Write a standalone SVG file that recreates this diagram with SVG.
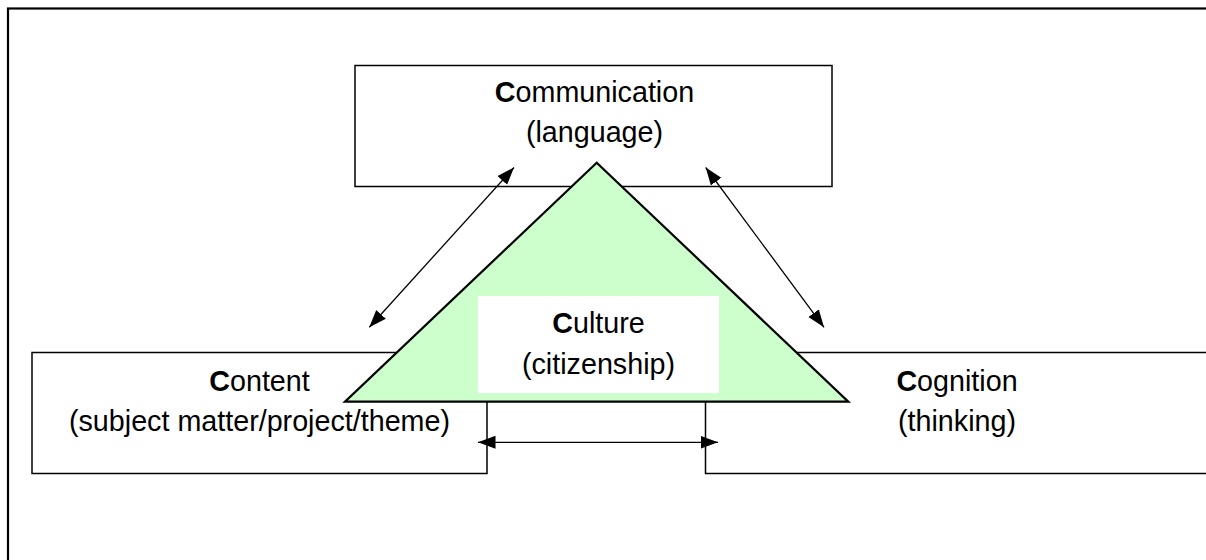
<svg xmlns="http://www.w3.org/2000/svg" width="1206" height="560" viewBox="0 0 1206 560">
  <defs>
    <style>
      .frame { fill: none; stroke: #000; stroke-width: 2.2; }
      .box { fill: #fff; stroke: #000; stroke-width: 1.5; }
      .tri { fill: #ccffcc; stroke: #000; stroke-width: 2.2; stroke-linejoin: miter; }
      .label { font-family: "Liberation Sans", Arial, sans-serif; font-size: 28.7px; fill: #000; }
      .key { font-weight: bold; }
      .link { stroke: #000; stroke-width: 1.3; fill: none; marker-start: url(#head); marker-end: url(#head); }
    </style>
    <marker id="head" markerUnits="userSpaceOnUse" markerWidth="18" markerHeight="14" refX="17.5" refY="6.5" orient="auto-start-reverse">
      <path d="M0,0 L17.5,6.5 L0,13 Z" fill="#000"/>
    </marker>
  </defs>

  <!-- page frame -->
  <rect class="frame" x="8" y="8.5" width="1230" height="600"/>

  <!-- Communication -->
  <g id="communication">
    <rect class="box" x="355" y="65.5" width="477" height="121"/>
    <text class="label" text-anchor="middle" x="594.5" y="102"><tspan class="key">C</tspan>ommunication</text>
    <text class="label" text-anchor="middle" x="594.5" y="142">(language)</text>
  </g>

  <!-- Content -->
  <g id="content">
    <rect class="box" x="32" y="352.5" width="455" height="121"/>
    <text class="label" text-anchor="middle" x="259.5" y="391"><tspan class="key">C</tspan>ontent</text>
    <text class="label" text-anchor="middle" x="259.5" y="431">(subject matter/project/theme)</text>
  </g>

  <!-- Cognition -->
  <g id="cognition">
    <rect class="box" x="705.5" y="352.5" width="530" height="121"/>
    <text class="label" text-anchor="middle" x="957" y="391"><tspan class="key">C</tspan>ognition</text>
    <text class="label" text-anchor="middle" x="957" y="431">(thinking)</text>
  </g>

  <!-- Culture -->
  <g id="culture">
    <polygon class="tri" points="596.7,162.7 345,401.7 848.3,401.7"/>
    <rect x="478" y="296" width="241" height="97" fill="#fff"/>
    <text class="label" text-anchor="middle" x="598.5" y="333"><tspan class="key">C</tspan>ulture</text>
    <text class="label" text-anchor="middle" x="598.5" y="374">(citizenship)</text>
  </g>

  <!-- two-way links -->
  <g id="connectors">
    <line class="link" x1="369.3" y1="327.3" x2="514" y2="167.5"/>
    <line class="link" x1="824" y1="327.3" x2="705.7" y2="167.5"/>
    <line class="link" x1="478" y1="442.3" x2="718" y2="442.3"/>
  </g>
</svg>
